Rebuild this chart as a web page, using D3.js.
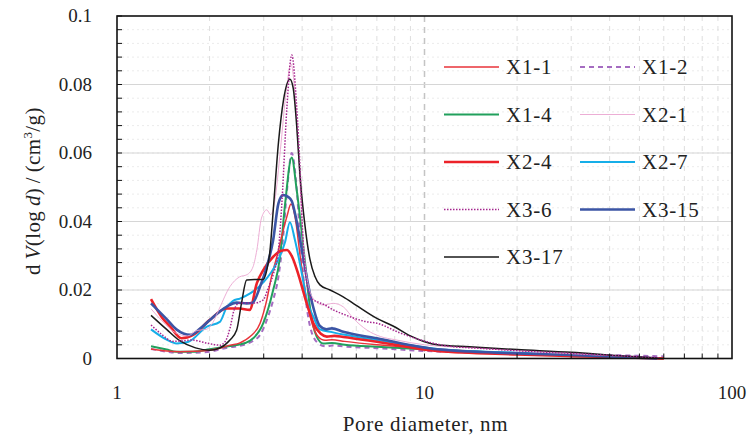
<!DOCTYPE html>
<html>
<head>
<meta charset="utf-8">
<script src="https://cdn.jsdelivr.net/npm/d3@7"></script>
<style>
  body { margin: 0; background: #fff; }
  svg { display: block; font-family: "Liberation Serif", "DejaVu Serif", serif; }
</style>
</head>
<body>
<div id="chart"></div>
<script>
// pore diameter (nm) vs dV/dlog(d)
const x1_1 = [[1.29,0.0028],[1.45,0.0022],[1.6,0.002],[1.8,0.0021],[2.0,0.0024],[2.2,0.0032],[2.33,0.0039],[2.5,0.0045],[2.71,0.0064],[2.92,0.0103],[3.07,0.0171],[3.18,0.0239],[3.31,0.0297],[3.44,0.036],[3.57,0.0415],[3.68,0.0451],[3.8,0.041],[3.94,0.03],[4.1,0.019],[4.3,0.0105],[4.5,0.0065],[4.75,0.0053],[5.0,0.0055],[5.5,0.005],[7,0.004],[10,0.003],[20,0.0015],[30,0.001],[45,0.0004],[60,0]];
const x1_2 = [[1.29,0.0028],[1.45,0.002],[1.6,0.0016],[1.8,0.0017],[2.0,0.002],[2.3,0.0032],[2.5,0.0037],[2.75,0.005],[2.92,0.0069],[3.07,0.0112],[3.22,0.0171],[3.35,0.0239],[3.45,0.033],[3.58,0.05],[3.7,0.06],[3.82,0.052],[3.95,0.034],[4.1,0.018],[4.3,0.0075],[4.55,0.0042],[4.8,0.0035],[5.0,0.0038],[5.5,0.0035],[7,0.003],[10,0.0022],[20,0.0015],[30,0.0012],[45,0.0009],[60,0.0006]];
const x1_4 = [[1.29,0.0036],[1.45,0.0026],[1.56,0.002],[1.77,0.002],[2.0,0.0027],[2.27,0.0035],[2.48,0.004],[2.71,0.0052],[2.99,0.0103],[3.22,0.02],[3.39,0.0297],[3.52,0.045],[3.7,0.0587],[3.84,0.0492],[4.07,0.0297],[4.24,0.0151],[4.46,0.0064],[4.69,0.0044],[5.0,0.0045],[5.5,0.004],[7.0,0.0034],[11,0.0025],[20,0.0015],[30,0.001],[45,0.0004],[60,0]];
const x2_1 = [[1.29,0.0145],[1.4,0.011],[1.55,0.0075],[1.7,0.0066],[1.82,0.0082],[1.95,0.0085],[2.05,0.0105],[2.15,0.0145],[2.33,0.021],[2.5,0.0238],[2.65,0.0245],[2.77,0.0268],[2.85,0.0317],[2.95,0.041],[3.07,0.0434],[3.16,0.042],[3.26,0.046],[3.4,0.061],[3.55,0.078],[3.68,0.086],[3.8,0.076],[3.94,0.05],[4.05,0.032],[4.2,0.021],[4.4,0.017],[4.68,0.0156],[5.05,0.0161],[5.44,0.0151],[5.87,0.0117],[6.5,0.0083],[7.2,0.0064],[8.0,0.0055],[10,0.004],[15,0.003],[20,0.0022],[30,0.0014],[45,0.0006],[58,0.0001]];
const x2_4 = [[1.29,0.0173],[1.4,0.012],[1.49,0.0093],[1.62,0.0059],[1.77,0.0069],[2.0,0.0112],[2.27,0.0146],[2.5,0.0146],[2.7,0.0142],[2.85,0.022],[2.99,0.0258],[3.22,0.0297],[3.4,0.0314],[3.57,0.0317],[3.72,0.0295],[3.89,0.0245],[4.14,0.0161],[4.35,0.0103],[4.6,0.0072],[4.81,0.0064],[5.1,0.0066],[5.44,0.0063],[7.0,0.0049],[11,0.0022],[20,0.0012],[30,0.0007],[45,0.0003],[60,0]];
const x2_7 = [[1.29,0.0085],[1.45,0.0055],[1.56,0.0044],[1.7,0.0048],[1.96,0.0093],[2.16,0.0107],[2.27,0.0148],[2.38,0.0168],[2.51,0.0175],[2.71,0.019],[2.99,0.0222],[3.31,0.028],[3.52,0.034],[3.65,0.0398],[3.79,0.0346],[3.99,0.0249],[4.14,0.0171],[4.35,0.0122],[4.57,0.0085],[5.0,0.0077],[5.44,0.007],[7.0,0.0054],[11,0.0028],[20,0.0017],[30,0.0011],[45,0.0005],[58,0.0001]];
const x3_6 = [[1.29,0.0098],[1.4,0.007],[1.52,0.005],[1.65,0.0052],[1.75,0.0054],[1.96,0.0045],[2.16,0.0039],[2.25,0.005],[2.33,0.0088],[2.4,0.014],[2.5,0.0162],[2.8,0.0162],[2.99,0.0171],[3.1,0.0205],[3.22,0.0245],[3.35,0.0317],[3.44,0.046],[3.57,0.0735],[3.7,0.0886],[3.84,0.0735],[3.94,0.055],[4.0,0.04],[4.14,0.022],[4.29,0.0175],[4.5,0.0165],[4.7,0.0158],[5.05,0.0142],[5.5,0.0128],[6.5,0.0107],[7.0,0.0103],[8.3,0.0075],[9.9,0.0052],[12,0.0036],[15,0.003],[20,0.0023],[30,0.0015],[45,0.0007],[58,0.0002]];
const x3_15 = [[1.29,0.0161],[1.45,0.0115],[1.56,0.0085],[1.73,0.0069],[1.85,0.0085],[2.0,0.0112],[2.27,0.0151],[2.45,0.0163],[2.64,0.0161],[2.76,0.0163],[2.92,0.021],[3.07,0.0268],[3.22,0.0346],[3.35,0.0453],[3.47,0.0477],[3.6,0.0472],[3.7,0.046],[3.82,0.041],[3.94,0.0346],[4.24,0.019],[4.57,0.0095],[4.8,0.0085],[5.0,0.0088],[5.44,0.0078],[7.0,0.0059],[11,0.0027],[20,0.0015],[30,0.001],[45,0.0004],[57,0]];
const x3_17 = [[1.29,0.0126],[1.45,0.0085],[1.6,0.0052],[1.8,0.0031],[2.0,0.0024],[2.15,0.003],[2.33,0.0054],[2.45,0.0083],[2.54,0.0161],[2.64,0.0229],[2.8,0.0231],[2.99,0.0231],[3.07,0.0258],[3.14,0.031],[3.22,0.043],[3.35,0.063],[3.48,0.0755],[3.65,0.0815],[3.74,0.079],[3.84,0.068],[3.94,0.053],[4.09,0.0385],[4.24,0.029],[4.4,0.024],[4.57,0.0215],[4.93,0.02],[5.44,0.018],[6.0,0.0155],[7.0,0.0117],[7.9,0.0095],[9.0,0.0066],[10,0.0049],[11,0.004],[14,0.0034],[20,0.0026],[30,0.0018],[43,0.0008],[57,0.0001]];

const names = ["X1-1", "X1-2", "X1-4", "X2-1", "X2-4", "X2-7", "X3-6", "X3-15", "X3-17"];
const seriesData = [x1_1, x1_2, x1_4, x2_1, x2_4, x2_7, x3_6, x3_15, x3_17];
const yTicks = [0, 0.02, 0.04, 0.06, 0.08, 0.1];
const xTicks = [1, 10, 100];

const styles = {
  "X1-1": { color: "#e8333a", width: 1.5, dash: null },
  "X1-2": { color: "#a56cc1", width: 2, dash: "5,4" },
  "X1-4": { color: "#21a05c", width: 2, dash: null },
  "X2-1": { color: "#eaa5d0", width: 0.9, dash: null },
  "X2-4": { color: "#ec2229", width: 2.6, dash: null },
  "X2-7": { color: "#16aee8", width: 2, dash: null },
  "X3-6": { color: "#a6268f", width: 1.5, dash: "1.5,1.5" },
  "X3-15": { color: "#3b55a5", width: 2.6, dash: null },
  "X3-17": { color: "#1a1a1a", width: 1.5, dash: null },
};
// draw order (last on top)
const drawOrder = ["X1-2", "X1-4", "X1-1", "X2-7", "X2-4", "X3-15", "X2-1", "X3-17", "X3-6"];

const W = 747, H = 439;
const m = { left: 117, right: 732, top: 16, bottom: 358.5 };

const svg = d3.select("#chart").append("svg").attr("width", W).attr("height", H);

const x = d3.scaleLog().domain([1, 100]).range([m.left, m.right]);
const y = d3.scaleLinear().domain([0, 0.1]).range([m.bottom, m.top]);

const minorX = [];
[1, 10].forEach((b) => { for (let k = 2; k <= 9; k++) minorX.push(b * k); });
const minorY = d3.range(0, 0.1001, 0.004);

const grid = svg.append("g");
// faint horizontal dotted minor lines
grid.selectAll(".hmin").data(minorY.filter((v) => v > 0 && v < 0.1)).join("line")
  .attr("x1", m.left).attr("x2", m.right)
  .attr("y1", (d) => y(d)).attr("y2", (d) => y(d))
  .attr("stroke", "#e6e6e6").attr("stroke-width", 0.8).attr("stroke-dasharray", "2,3");
// vertical dashed
grid.selectAll(".vmin").data(minorX).join("line")
  .attr("x1", (d) => x(d)).attr("x2", (d) => x(d))
  .attr("y1", m.top).attr("y2", m.bottom)
  .attr("stroke", "#dedede").attr("stroke-width", 1).attr("stroke-dasharray", "5,5");
grid.append("line")
  .attr("x1", x(10)).attr("x2", x(10)).attr("y1", m.top).attr("y2", m.bottom)
  .attr("stroke", "#c4c4c4").attr("stroke-width", 1.5).attr("stroke-dasharray", "6,5");
// major horizontal
grid.selectAll(".hmaj").data(yTicks.filter((v) => v > 0 && v < 0.1)).join("line")
  .attr("x1", m.left).attr("x2", m.right)
  .attr("y1", (d) => y(d)).attr("y2", (d) => y(d))
  .attr("stroke", "#d6d6d6").attr("stroke-width", 1.2);

// curves
const line = d3.line()
  .x((d) => x(d[0]))
  .y((d) => y(d[1]))
  .curve(d3.curveMonotoneX);

const byName = {};
names.forEach((n, i) => (byName[n] = seriesData[i]));

svg.append("g").selectAll("path").data(drawOrder).join("path")
  .attr("d", (n) => line(byName[n]))
  .attr("fill", "none")
  .attr("stroke", (n) => styles[n].color)
  .attr("stroke-width", (n) => styles[n].width)
  .attr("stroke-dasharray", (n) => styles[n].dash)
  .attr("stroke-linejoin", "round");

// frame + ticks
const axes = svg.append("g").attr("stroke", "#111");
axes.append("rect")
  .attr("x", m.left).attr("y", m.top)
  .attr("width", m.right - m.left).attr("height", m.bottom - m.top)
  .attr("fill", "none").attr("stroke-width", 1.6);
axes.selectAll(".ty").data(minorY).join("line")
  .attr("x1", m.left).attr("x2", m.left + 5)
  .attr("y1", (d) => y(d)).attr("y2", (d) => y(d)).attr("stroke-width", 1);
axes.selectAll(".tx").data(minorX.concat([10])).join("line")
  .attr("x1", (d) => x(d)).attr("x2", (d) => x(d))
  .attr("y1", m.bottom).attr("y2", m.bottom - 5).attr("stroke-width", 1);

const fmtY = (d) => (d === 0 ? "0" : String(+d.toFixed(2)));
svg.append("g").selectAll("text").data(yTicks).join("text")
  .attr("x", 92).attr("y", (d) => y(d) + 6)
  .attr("text-anchor", "end")
  .attr("font-size", 19).attr("fill", "#222")
  .text(fmtY);

svg.append("g").selectAll("text").data(xTicks).join("text")
  .attr("x", (d) => x(d)).attr("y", 399)
  .attr("text-anchor", "middle")
  .attr("font-size", 19).attr("fill", "#222")
  .text((d) => d);

svg.append("text")
  .attr("x", (m.left + m.right) / 2 + 1).attr("y", 431)
  .attr("text-anchor", "middle")
  .attr("font-size", 21).attr("letter-spacing", 0.7).attr("fill", "#222")
  .text("Pore diameter, nm");

const yl = svg.append("text")
  .attr("transform", "translate(40,191) rotate(-90)")
  .attr("text-anchor", "middle")
  .attr("font-size", 21).attr("letter-spacing", 0.4).attr("fill", "#222");
yl.append("tspan").text("d\u2009");
yl.append("tspan").attr("font-style", "italic").text("V");
yl.append("tspan").text("(log\u2009");
yl.append("tspan").attr("font-style", "italic").text("d");
yl.append("tspan").text(")\u2009/\u2009(cm");
yl.append("tspan").attr("font-size", 13).attr("dy", -8).text("3");
yl.append("tspan").attr("dy", 8).text("/g)");

// legend, two columns
const legend = svg.append("g");
const rowY = (i) => 67 + Math.floor(i / 2) * 47.5;
const colX = (i) => (i % 2 === 0 ? 444 : 580);
names.forEach((n, i) => {
  const g = legend.append("g").attr("transform", `translate(${colX(i)},${rowY(i)})`);
  g.append("line")
    .attr("x1", 0).attr("x2", 55).attr("y1", 0).attr("y2", 0)
    .attr("stroke", styles[n].color)
    .attr("stroke-width", styles[n].width)
    .attr("stroke-dasharray", styles[n].dash);
  g.append("text")
    .attr("x", 62).attr("y", 7)
    .attr("font-size", 21).attr("letter-spacing", 0.8).attr("fill", "#222")
    .text(n);
});
</script>
</body>
</html>
